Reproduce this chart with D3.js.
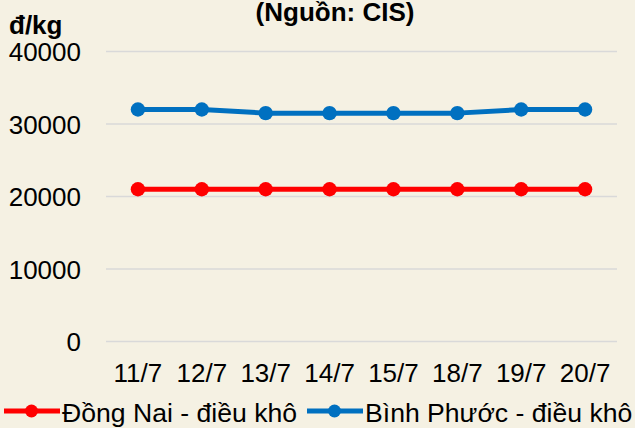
<!DOCTYPE html>
<html><head><meta charset="utf-8">
<script src="https://cdn.jsdelivr.net/npm/d3@7"></script>
<style>
html,body{margin:0;padding:0;background:#f5f1e3;}
svg{display:block;font-family:"Liberation Sans",Arial,sans-serif;}
</style></head>
<body>
<svg id="c" width="635" height="428"></svg>
<script>
const categories = ["11/7","12/7","13/7","14/7","15/7","18/7","19/7","20/7"];
const dongNai = [21000,21000,21000,21000,21000,21000,21000,21000];
const binhPhuoc = [32000,32000,31500,31500,31500,31500,32000,32000];
const yTicks = [0,10000,20000,30000,40000];
const seriesNames = ["Đồng Nai - điều khô","Bình Phước - điều khô"];
const colors = ["#ff0000","#0070c0"];

const FS = 26;
const svg = d3.select("#c");
svg.append("rect").attr("width",635).attr("height",428).attr("fill","#f5f1e3");

const x = d3.scaleBand().domain(categories).range([106,617]);
const y = d3.scaleLinear().domain([0,40000]).range([341.5,51.5]);

// gridlines
svg.append("g").selectAll("line").data(yTicks).join("line")
  .attr("x1",106).attr("x2",617)
  .attr("y1",d=>y(d)).attr("y2",d=>y(d))
  .attr("stroke","#d9d9d9").attr("stroke-width",1.3);

// y axis labels
const yAxis = d3.axisLeft(y).tickValues(yTicks).tickSize(0).tickPadding(0).tickFormat(d3.format("d"));
const ga = svg.append("g").attr("transform","translate(81,0)").call(yAxis)
  .attr("font-size",FS).attr("font-family","'Liberation Sans',Arial,sans-serif");
ga.select(".domain").remove();
ga.selectAll("text").attr("fill","#000").attr("dy","0.36em");

// x axis labels
const xAxis = d3.axisBottom(x).tickSize(0).tickPadding(0);
const gx = svg.append("g").attr("transform","translate(0,363.5)").call(xAxis)
  .attr("font-size",FS).attr("font-family","'Liberation Sans',Arial,sans-serif");
gx.select(".domain").remove();
gx.selectAll("text").attr("fill","#000");

const line = d3.line().x((d,i)=>x(categories[i])+x.bandwidth()/2).y(d=>y(d));
[dongNai,binhPhuoc].forEach((s,k)=>{
  svg.append("path").datum(s).attr("d",line).attr("fill","none")
    .attr("stroke",colors[k]).attr("stroke-width",5).attr("stroke-linejoin","round");
  svg.append("g").selectAll("circle").data(s).join("circle")
    .attr("cx",(d,i)=>x(categories[i])+x.bandwidth()/2).attr("cy",d=>y(d))
    .attr("r",7.2).attr("fill",colors[k]);
});

// title & unit
svg.append("text").attr("x",335).attr("y",21).attr("text-anchor","middle")
  .attr("font-size",FS).attr("font-weight","bold").text("(Nguồn: CIS)");
svg.append("text").attr("x",9).attr("y",34)
  .attr("font-size",FS).attr("font-weight","bold").text("đ/kg");

// legend
const legX = [4,307];
seriesNames.forEach((n,k)=>{
  const g = svg.append("g").attr("transform",`translate(${legX[k]},411)`);
  g.append("line").attr("x1",0).attr("x2",56).attr("y1",0).attr("y2",0)
    .attr("stroke",colors[k]).attr("stroke-width",5);
  g.append("circle").attr("cx",27.5).attr("cy",0).attr("r",6.5).attr("fill",colors[k]);
  g.append("text").attr("x",58).attr("y",10.5).attr("font-size",26.6).text(n);
});
</script>
</body></html>
